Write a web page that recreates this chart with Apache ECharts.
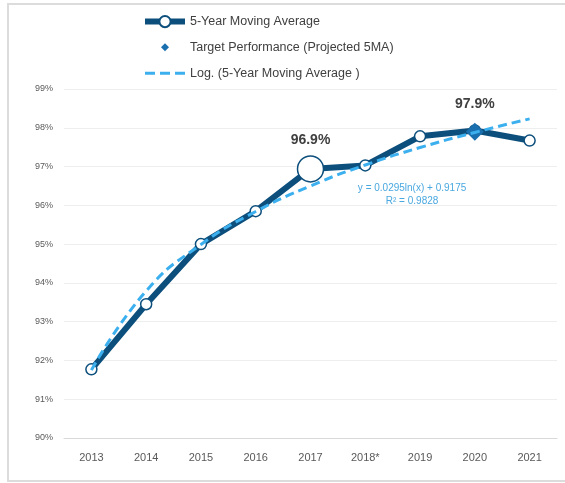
<!DOCTYPE html>
<html>
<head>
<meta charset="utf-8">
<script src="https://cdn.jsdelivr.net/npm/echarts@6/dist/echarts.min.js"></script>
<style>
  html, body { margin: 0; padding: 0; background: #fff; }
  #container { width: 565px; height: 483px; }
</style>
</head>
<body>
<div id="container"></div>
<script>
// data
const years = ['2013', '2014', '2015', '2016', '2017', '2018*', '2019', '2020', '2021']
const movingAvg = [91.77, 93.45, 95.0, 95.85, 96.94, 97.03, 97.78, 97.93, 97.67]
const target = [null, null, null, null, null, null, null, 97.9, null]
const logTrend = [91.75, 93.79, 94.99, 95.84, 96.5, 97.04, 97.49, 97.88, 98.23]
const yTicks = { min: 90, max: 99, step: 1 }
const eqText = 'y = 0.0295ln(x) + 0.9175\nR² = 0.9828'

const chart = echarts.init(document.getElementById('container'), null, { renderer: 'canvas' })

const font = 'Liberation Sans, Arial, sans-serif'
const navy = '#0d4f7c'
const lightBlue = '#3cb0ee'

// legend icons (box 40x14)
const iconDiamond = 'path://M0,0M40,14M20,3L24,7L20,11L16,7Z'
const iconDash = 'path://M0,0M40,14M0,5.5L10,5.5L10,8.5L0,8.5ZM15,5.5L25,5.5L25,8.5L15,8.5ZM30,5.5L40,5.5L40,8.5L30,8.5Z'

const option = {
  animation: false,
  textStyle: { fontFamily: font },
  graphic: [
    {
      type: 'rect',
      shape: { x: 8, y: 4, width: 570, height: 477 },
      style: { fill: 'none', stroke: '#dcdcdc', lineWidth: 2 },
      silent: true
    }
  ],
  legend: {
    orient: 'vertical',
    left: 137,
    top: 10,
    itemGap: 12,
    itemWidth: 40,
    itemHeight: 14,
    textStyle: { color: '#404040', fontSize: 12.5, fontFamily: font },
    data: [
      { name: '5-Year Moving Average', lineStyle: { width: 6, color: navy } },
      { name: 'Target Performance (Projected 5MA)', icon: iconDiamond, itemStyle: { color: '#1a6fae', opacity: 1 } },
      { name: 'Log. (5-Year Moving Average )', icon: iconDash, itemStyle: { color: lightBlue } }
    ]
  },
  grid: { left: 64, right: 8, top: 89, bottom: 45 },
  xAxis: {
    type: 'category',
    data: years,
    axisTick: { show: false },
    axisLine: { lineStyle: { color: '#d9d9d9', width: 1 } },
    axisLabel: { color: '#595959', fontSize: 11, margin: 14 }
  },
  yAxis: {
    type: 'value',
    min: yTicks.min,
    max: yTicks.max,
    interval: yTicks.step,
    axisLine: { show: false },
    axisTick: { show: false },
    axisLabel: { color: '#595959', fontSize: 9, margin: 11, formatter: '{value}%' },
    splitLine: { lineStyle: { color: '#eeeeee', width: 1 } }
  },
  series: [
    {
      name: '5-Year Moving Average',
      type: 'line',
      data: movingAvg.map(function (v, i) {
        if (i === 4) {
          return {
            value: v,
            symbolSize: 26,
            label: {
              show: true, position: 'top', distance: 8,
              formatter: '96.9%', fontWeight: 'bold', fontSize: 14, color: '#404040'
            }
          }
        }
        return v
      }),
      symbol: 'circle',
      symbolSize: 11,
      lineStyle: { color: navy, width: 6 },
      itemStyle: { color: '#ffffff', borderColor: navy, borderWidth: 1.5 },
      z: 2
    },
    {
      name: 'Target Performance (Projected 5MA)',
      type: 'scatter',
      data: target,
      symbol: 'diamond',
      symbolSize: 18,
      itemStyle: { color: '#1a6fae', opacity: 1 },
      label: {
        show: true, position: 'top', distance: 12,
        formatter: '97.9%', fontWeight: 'bold', fontSize: 14, color: '#404040'
      },
      z: 3
    },
    {
      name: 'Log. (5-Year Moving Average )',
      type: 'line',
      data: logTrend,
      smooth: true,
      symbol: 'none',
      lineStyle: { color: lightBlue, width: 3, type: [9, 5] },
      itemStyle: { color: lightBlue },
      z: 4,
      markPoint: {
        symbol: 'circle',
        symbolSize: 0,
        data: [{ coord: ['2019', 96.27] }],
        label: {
          show: true,
          formatter: eqText,
          color: '#4aa8e0',
          fontFamily: font,
          fontSize: 10,
          lineHeight: 13,
          align: 'center',
          offset: [-8, 0]
        }
      }
    }
  ]
}

option && chart.setOption(option)
</script>
</body>
</html>
